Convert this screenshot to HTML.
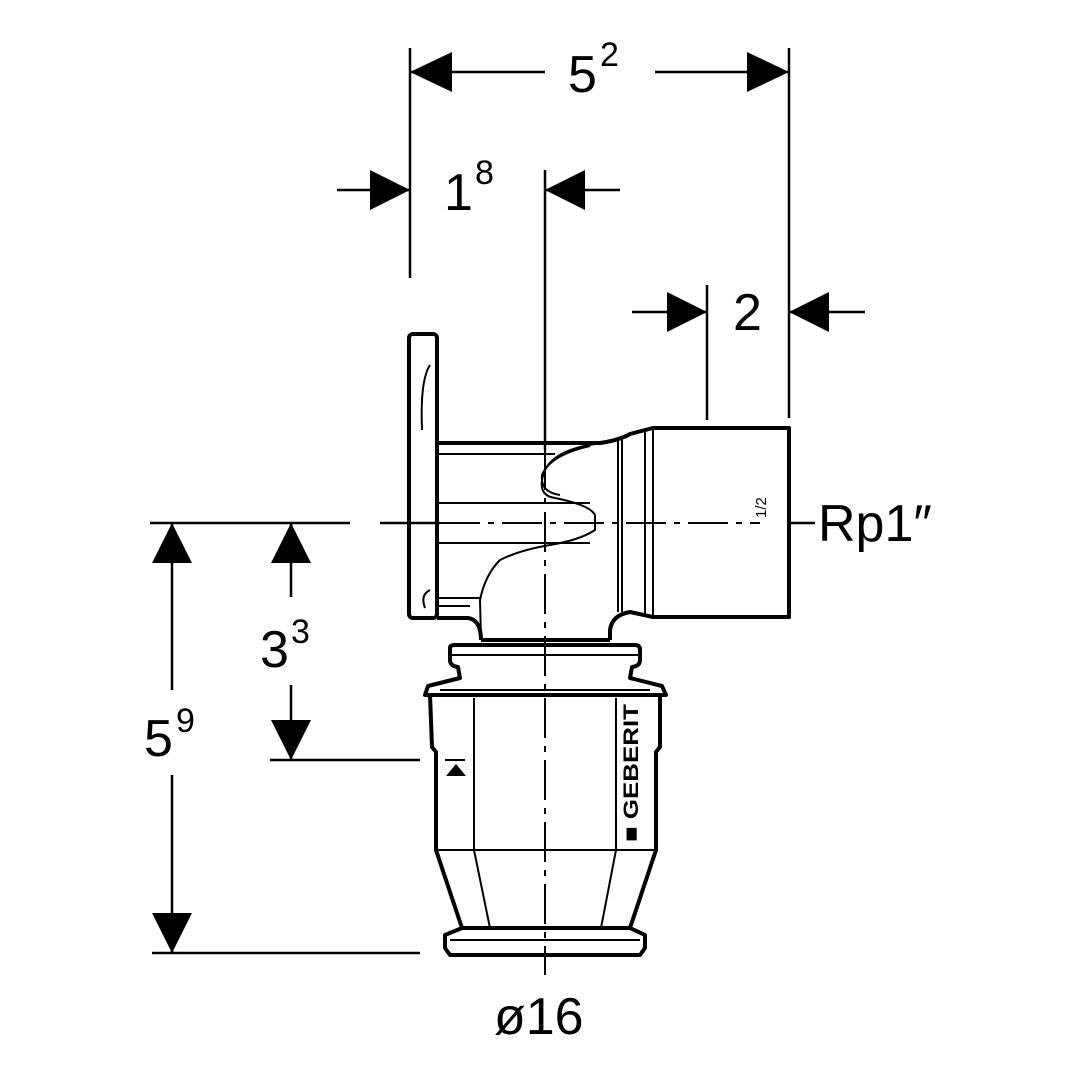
<!DOCTYPE html>
<html><head><style>
html,body{margin:0;padding:0;background:#fff;}
svg{display:block}
text{font-family:"Liberation Sans",sans-serif;fill:#000}
</style></head><body>
<svg width="1080" height="1080" viewBox="0 0 1080 1080" xmlns="http://www.w3.org/2000/svg">
<g stroke="#000" stroke-width="2.5" fill="none">
<line x1="410" y1="48" x2="410" y2="278"/>
<line x1="789" y1="48" x2="789" y2="418"/>
<line x1="707" y1="285" x2="707" y2="420"/>
<line x1="545" y1="170" x2="545" y2="450"/>
<line x1="410" y1="72" x2="545" y2="72"/>
<line x1="655" y1="72" x2="789" y2="72"/>
<line x1="337" y1="190" x2="410" y2="190"/>
<line x1="545" y1="190" x2="620" y2="190"/>
<line x1="632" y1="312" x2="707" y2="312"/>
<line x1="789" y1="312" x2="865" y2="312"/>
<line x1="150" y1="523" x2="350" y2="523"/>
<line x1="380" y1="523" x2="440" y2="523"/>
<line x1="789" y1="523" x2="815" y2="523"/>
<line x1="270" y1="760" x2="420" y2="760"/>
<line x1="152" y1="953" x2="420" y2="953"/>
<line x1="172" y1="523" x2="172" y2="690"/>
<line x1="172" y1="775" x2="172" y2="953"/>
<line x1="291" y1="523" x2="291" y2="597"/>
<line x1="291" y1="685" x2="291" y2="760"/>
<line x1="440" y1="523" x2="760" y2="523" stroke-width="2" stroke-dasharray="40 8 6 8"/>
<line x1="545" y1="450" x2="545" y2="975" stroke-width="2" stroke-dasharray="40 8 6 8"/>
</g>
<g fill="#000">
<polygon points="410,72 452,52 452,92"/>
<polygon points="789,72 747,52 747,92"/>
<polygon points="410,190 370,170 370,210"/>
<polygon points="545,190 585,170 585,210"/>
<polygon points="707,312 667,292 667,332"/>
<polygon points="789,312 829,292 829,332"/>
<polygon points="172,523 152,563 192,563"/>
<polygon points="172,953 152,913 192,913"/>
<polygon points="291,523 271,563 311,563"/>
<polygon points="291,760 271,720 311,720"/>
</g>
<g stroke="#000" stroke-width="4" fill="none" stroke-linejoin="round">
<rect x="409" y="334" width="28" height="284" rx="4"/>
<path d="M437,443 L600,443 Q620,440 630,434 L653,428 L789,428 L789,617 L653,617 L630,612 Q612,615 610,630 L610,640"/>
<path d="M437,618 L468,618 Q481,620 481,640"/>
<path d="M481,640 L610,640"/>
<path d="M450,660 L450,648 Q450,645 455,645 L635,645 Q640,645 640,650 L640,660 Q640,666 632,667 L630,678 L662,686 L666,695 L425,695 L428,686 L460,678 L458,667 Q450,666 450,660Z"/>
<path d="M430,695 L432,747 L436,752 L436,850 L462,928 L630,928 L656,850 L656,752 L660,747 L660,695"/>
<path d="M462,928 L445,935 L445,948 L450,955 L640,955 L645,948 L645,935 L630,928Z"/>
</g>
<g stroke="#000" stroke-width="2" fill="none">
<line x1="653" y1="428" x2="653" y2="617"/>
<line x1="645" y1="432" x2="645" y2="614"/>
<line x1="622" y1="438" x2="622" y2="612"/>
<line x1="618" y1="440" x2="618" y2="612"/>
<line x1="437" y1="454" x2="555" y2="454"/>
<line x1="437" y1="503" x2="590" y2="503"/>
<line x1="437" y1="543" x2="590" y2="543"/>
<line x1="437" y1="598" x2="480" y2="598"/>
<line x1="437" y1="606" x2="470" y2="606"/>
<path d="M595,444 Q555,450 545,470 Q535,495 555,498 Q590,505 595,515 L595,530 Q580,540 550,545 Q520,550 500,560 Q485,575 480,600 L481,640"/>
<path d="M590,446 Q550,455 542,475 Q540,492 560,495"/>
<path d="M430,365 Q420,380 422,430"/>
<path d="M430,590 Q420,595 425,608"/>
<line x1="474" y1="698" x2="474" y2="850"/>
<line x1="616" y1="698" x2="616" y2="850"/>
<line x1="436" y1="850" x2="656" y2="850"/>
<line x1="474" y1="850" x2="490" y2="928"/>
<line x1="616" y1="850" x2="601" y2="928"/>
<line x1="452" y1="655" x2="638" y2="655"/>
<line x1="440" y1="690" x2="650" y2="690"/>
<line x1="450" y1="940" x2="640" y2="940"/>
<line x1="445" y1="760" x2="465" y2="760"/>
</g>
<polygon points="446,776 466,776 456,764" fill="#000"/>
<text x="0" y="0" font-size="21" font-weight="bold" textLength="138" lengthAdjust="spacingAndGlyphs" transform="translate(638,842) rotate(-90)">■ GEBERIT</text>
<text x="0" y="0" font-size="15" transform="translate(766,518) rotate(-90)">1/2</text>
<text x="568" y="92" font-size="52">5</text><text x="600" y="66" font-size="34">2</text>
<text x="444" y="210" font-size="52">1</text><text x="475" y="184" font-size="34">8</text>
<text x="733" y="330" font-size="52">2</text>
<text x="818" y="541" font-size="52">Rp1″</text>
<text x="260" y="667" font-size="52">3</text><text x="291" y="643" font-size="34">3</text>
<text x="144" y="756" font-size="52">5</text><text x="176" y="732" font-size="34">9</text>
<text x="494" y="1034" font-size="52">ø16</text>
</svg>
</body></html>
